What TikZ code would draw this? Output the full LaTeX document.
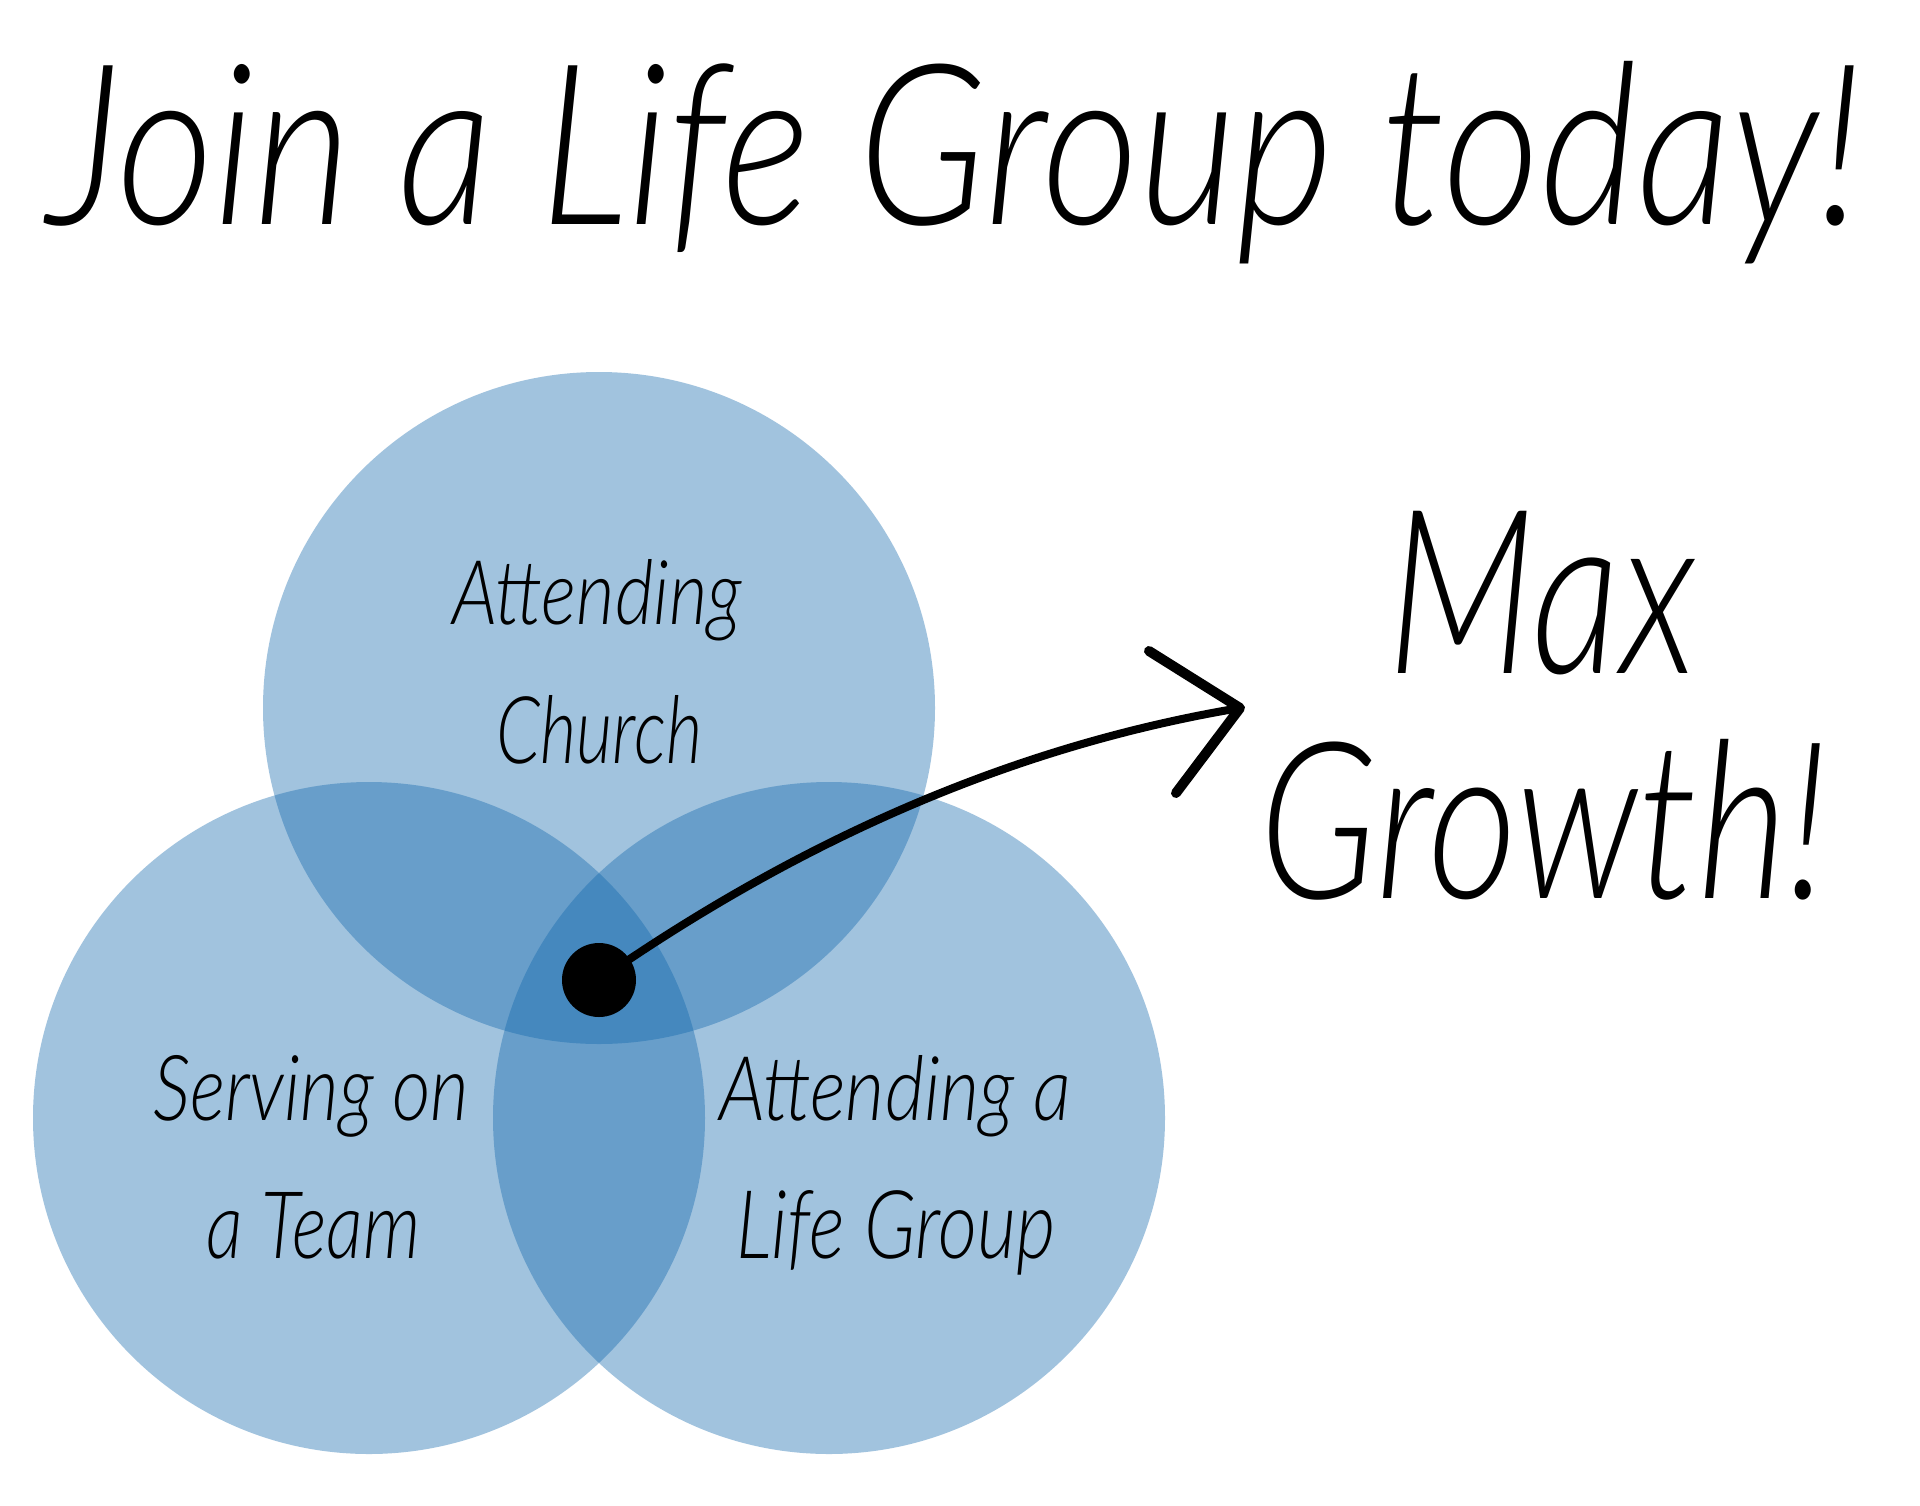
\documentclass[tikz,border=0pt]{standalone}
\usepackage{fontspec}
\setmainfont{Lato}
\newfontfamily\hand{Lato Light Italic}
\definecolor{vennblue}{RGB}{15,102,172}
\tikzset{
  venn/.style={circle, minimum size=672pt, inner sep=0pt, fill=vennblue, fill opacity=0.387, draw=none},
  lbl/.style={anchor=base west, inner sep=0pt, text=black},
  curveline/.style={line width=8pt, line cap=round, black},
  headline/.style={line width=10pt, line cap=round, line join=round, black},
}
\begin{document}
\begin{tikzpicture}[x=1pt,y=-1pt]
\useasboundingbox (0,0) rectangle (1920,1505);
\fill[white] (0,0) rectangle (1920,1505);
% circles
\node[venn] (top) at (599,708) {};
\node[venn] (left) at (369,1118) {};
\node[venn] (right) at (829,1118) {};
% title
\node[lbl] (title) at (47,224) {\resizebox{1814pt}{163pt}{\hand Join a Life Group today!}};
% max growth
\node[lbl] (max) at (1387,673) {\resizebox{309pt}{162pt}{\hand Max}};
\node[lbl] (growth) at (1259,898) {\resizebox{568pt}{159pt}{\hand Growth!}};
% labels
\node[lbl] (att1) at (452,624) {\resizebox{290pt}{65pt}{\hand Attending}};
\node[lbl] (church) at (496,763) {\resizebox{206pt}{68pt}{\hand Church}};
\node[lbl] (serv) at (153,1120) {\resizebox{316pt}{65pt}{\hand Serving on}};
\node[lbl] (team) at (206,1258) {\resizebox{214pt}{66pt}{\hand a Team}};
\node[lbl] (att2) at (719,1120) {\resizebox{352pt}{65pt}{\hand Attending a}};
\node[lbl] (lg) at (736,1258) {\resizebox{319pt}{68pt}{\hand Life Group}};
% dot and arrow
\node[circle, fill=black, minimum size=74pt, inner sep=0pt] (dot) at (599,980) {};
\coordinate (tip) at (1240,708);
\coordinate (h1) at (1149,651);
\coordinate (h2) at (1176,793);
\draw[curveline] (dot.center) .. controls (806,836) and (1019,745) .. (tip);
\draw[headline] (h1) -- (tip) -- (h2);
\end{tikzpicture}
\end{document}
